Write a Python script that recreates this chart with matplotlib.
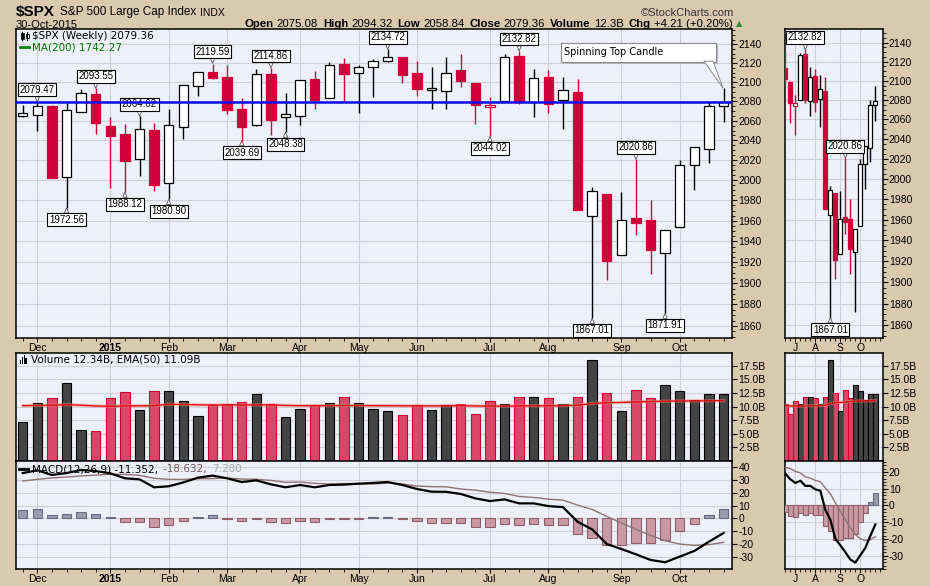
import matplotlib
matplotlib.use("Agg")
import matplotlib.pyplot as plt
from matplotlib.patches import Rectangle, Polygon
from matplotlib.ticker import FixedLocator, NullFormatter, FuncFormatter

OUTPUT = "out.png"
W, H = 930, 586

plt.rcParams["font.family"] = ["Liberation Sans", "DejaVu Sans"]

# weekly candles, week ending 28-Nov-2014 ... 30-Oct-2015
opens = [2065.0, 2065.8, 2074.8, 2002.9, 2069.5, 2087.6, 2054.4, 2046.1, 2020.8, 2050.4,
         1996.7, 2053.5, 2096.5, 2110.9, 2105.2, 2072.3, 2055.4, 2108.4, 2064.1, 2064.9,
         2102.9, 2084.0, 2119.3, 2110.0, 2115.6, 2122.0, 2126.9, 2109.8, 2092.3, 2091.3,
         2112.8, 2099.2, 2073.9, 2080.1, 2127.6, 2079.5, 2105.0, 2081.2, 2089.7, 1964.4,
         1986.4, 1926.5, 1963.0, 1961.0, 1928.5, 1953.8, 2014.9, 2031.0, 2075.08]
highs = [2075.8, 2079.47, 2075.8, 2077.9, 2092.7, 2093.55, 2064.4, 2056.9, 2064.62, 2057.6,
         2072.4, 2097.0, 2110.6, 2119.59, 2117.5, 2083.5, 2113.9, 2114.86, 2089.0, 2102.6,
         2111.9, 2120.9, 2125.9, 2118.0, 2124.4, 2134.72, 2126.9, 2122.0, 2115.4, 2126.7,
         2129.9, 2099.2, 2085.0, 2129.4, 2132.82, 2114.2, 2112.7, 2105.6, 2103.5, 1993.5,
         1986.4, 1988.6, 2020.86, 1980.1, 1951.4, 2020.3, 2033.5, 2079.7, 2094.32]
lows = [2064.3, 2049.6, 2002.3, 1972.56, 2069.0, 2046.0, 1992.4, 1988.12, 2004.5, 1989.2,
        1980.90, 2041.9, 2085.4, 2103.0, 2067.3, 2039.69, 2055.0, 2045.8, 2048.38, 2056.0,
        2072.5, 2083.0, 2079.0, 2067.9, 2085.0, 2120.9, 2099.2, 2085.7, 2072.1, 2072.5,
        2095.3, 2056.6, 2044.02, 2080.1, 2077.0, 2063.5, 2067.7, 2052.1, 1970.9, 1867.01,
        1903.1, 1926.5, 1946.3, 1908.3, 1871.91, 1953.8, 1990.0, 2016.9, 2058.84]
closes = [2067.56, 2075.37, 2002.33, 2070.65, 2088.77, 2058.20, 2044.81, 2019.42, 2051.82, 1994.99,
          2055.47, 2096.99, 2110.30, 2104.50, 2071.26, 2053.40, 2108.10, 2061.02, 2066.96, 2102.06,
          2081.18, 2117.69, 2108.29, 2116.10, 2122.73, 2126.06, 2107.39, 2092.83, 2094.11, 2109.99,
          2101.49, 2076.78, 2076.62, 2126.64, 2079.65, 2103.84, 2077.57, 2091.54, 1970.89, 1988.87,
          1921.22, 1961.05, 1958.03, 1931.34, 1951.36, 2014.89, 2033.11, 2075.15, 2079.36]
prev_close = 2063.50
last_close = 2079.36

# volume in billions and its EMA(50)
volume = [7.1, 10.6, 11.56, 14.26, 5.6, 5.44, 11.5, 12.6, 9.3, 12.85,
          12.8, 10.96, 8.2, 10.28, 10.46, 10.77, 12.24, 10.4, 8.07, 9.54,
          10.22, 10.64, 11.75, 10.64, 9.54, 9.17, 8.44, 10.22, 9.36, 10.22,
          10.4, 8.57, 10.96, 10.4, 11.69, 11.69, 11.5, 10.4, 11.69, 18.49,
          12.43, 9.12, 12.98, 11.5, 13.9, 12.8, 11.14, 12.35, 12.34]
vol_ema = [10.15, 10.2, 10.25, 10.33, 10.25, 10.1, 10.04, 10.1, 10.12, 10.15,
           10.4, 10.38, 10.3, 10.28, 10.28, 10.28, 10.3, 10.28, 10.2, 10.15,
           10.15, 10.15, 10.18, 10.18, 10.15, 10.15, 10.12, 10.12, 10.1, 10.12,
           10.15, 10.1, 10.08, 10.08, 10.1, 10.12, 10.12, 10.15, 10.25, 10.55,
           10.7, 10.75, 10.85, 10.9, 10.98, 11.02, 11.02, 11.05, 11.09]

# MACD(12,26,9)
macd = [35.3, 37.4, 33.8, 35.3, 37.7, 36.8, 35.1, 31.2, 30.4, 24.2,
        25.0, 28.0, 31.7, 33.3, 31.2, 28.3, 29.6, 26.5, 24.2, 26.0,
        24.2, 26.0, 26.3, 27.0, 27.6, 28.3, 26.0, 22.9, 20.8, 20.7,
        19.0, 15.6, 13.5, 14.8, 11.7, 11.7, 9.6, 8.8, -2.6, -8.5,
        -19.9, -23.8, -27.9, -32.3, -34.1, -29.7, -25.3, -18.1, -11.352]
signal = [29.1, 30.4, 31.5, 32.2, 33.0, 33.7, 34.3, 34.3, 33.5, 31.2,
          30.4, 30.3, 30.9, 31.0, 31.5, 30.6, 30.4, 29.6, 28.1, 28.3,
          27.3, 26.8, 27.1, 27.1, 26.8, 27.5, 26.8, 25.2, 24.7, 24.6,
          22.9, 22.0, 20.4, 19.4, 17.1, 16.3, 15.0, 14.2, 10.4, 7.0,
          1.6, -3.5, -8.4, -13.2, -17.4, -19.9, -21.0, -20.4, -18.632]
hist = [6.2, 7.0, 2.3, 3.1, 4.7, 3.1, 0.8, -3.1, -3.1, -7.0,
        -5.4, -2.3, 0.8, 2.3, -0.3, -2.3, -0.8, -3.1, -3.9, -2.3,
        -3.1, -0.8, -0.8, -0.1, 0.8, 0.8, -0.8, -2.3, -3.9, -3.9,
        -3.9, -6.4, -6.9, -4.6, -5.4, -4.6, -5.4, -5.4, -12.4, -15.5,
        -20.9, -20.9, -19.4, -19.4, -17.1, -10.1, -4.6, 2.3, 7.28]

month_pos = [1, 6, 10, 14, 19, 23, 27, 32, 36, 41, 45]
month_labels = ["Dec", "2015", "Feb", "Mar", "Apr", "May", "Jun", "Jul", "Aug", "Sep", "Oct"]
side_pos = [32, 36, 41, 45]
side_labels = ["J", "A", "S", "O"]

price_ticks = list(range(1860, 2141, 20))
vol_ticks = [2.5, 5.0, 7.5, 10.0, 12.5, 15.0, 17.5]
macd_ticks = [-30, -20, -10, 0, 10, 20, 30, 40]
side_macd_ticks = [-30, -20, -10, 0, 10, 20]

high_marks = [1, 5, 8, 13, 17, 25, 34, 42]
low_marks = [3, 7, 10, 15, 18, 32, 39, 44]
side_high_marks = [34, 42]
side_low_marks = [39]

RED = "#d2003a"
BG = "#d9c9ae"
PANEL = "#eef0f8"
GRID = "#d0d0d6"

fig = plt.figure(figsize=(W / 100, H / 100), dpi=100)
fig.patch.set_facecolor(BG)


def box(x0, y0, x1, y1):
    return [x0 / W, 1 - y1 / H, (x1 - x0) / W, (y1 - y0) / H]


ax_main = fig.add_axes(box(16, 29.3, 732.3, 338.3))
ax_vol = fig.add_axes(box(16, 353.3, 732.3, 461.3))
ax_macd = fig.add_axes(box(16, 461.3, 732.3, 569.3))
sx0, sx1 = 785.3, 882.5
sd_main = fig.add_axes(box(sx0, 29.3, sx1, 338.3))
sd_vol = fig.add_axes(box(sx0, 353.3, sx1, 461.3))
sd_macd = fig.add_axes(box(sx0, 461.3, sx1, 569.3))

n = len(closes)
xs = list(range(n))
up_color = []
for i in range(n):
    pc = closes[i - 1] if i > 0 else prev_close
    up_color.append(closes[i] >= pc)


def style(ax, xlim, ylim, xlabels):
    ax.set_facecolor(PANEL)
    ax.set_xlim(*xlim)
    ax.set_ylim(*ylim)
    for s in ax.spines.values():
        s.set_linewidth(1.1)
        s.set_color("black")
    ax.yaxis.tick_right()
    ax.tick_params(axis="y", which="major", direction="out", length=3.5, width=0.8,
                   pad=1, labelsize=7.5, colors="black")
    ax.tick_params(axis="y", which="minor", direction="out", length=2, width=0.6)
    ax.tick_params(axis="x", which="major", direction="out", length=3, width=0.7,
                   pad=0.5, labelsize=7.5)
    ax.tick_params(axis="x", which="minor", direction="out", length=2, width=0.6)
    ax.set_axisbelow(True)
    ax.grid(True, which="major", color=GRID, lw=0.8)
    if not xlabels:
        ax.tick_params(axis="x", which="both", length=0, labelbottom=False)


def set_months(ax, pos, labels, first, last):
    ax.xaxis.set_major_locator(FixedLocator(pos))
    ax.xaxis.set_minor_locator(FixedLocator(list(range(first, last + 1))))
    ax.set_xticklabels(labels)
    for t in ax.get_xticklabels():
        if t.get_text() == "2015":
            t.set_fontweight("bold")


def draw_candles(ax, idx, width):
    for i in idx:
        o, h, l, c = opens[i], highs[i], lows[i], closes[i]
        col = "black" if up_color[i] else RED
        ax.plot([i, i], [l, h], color=col, lw=1.0, zorder=3, solid_capstyle="butt")
        lo_b, hi_b = min(o, c), max(o, c)
        if hi_b - lo_b < 0.6:
            hi_b = lo_b + 0.6
        fill = col if c < o else "white"
        ax.bar(i, hi_b - lo_b, bottom=lo_b, width=width, color=fill, edgecolor=col,
               lw=0.9, zorder=4)


def mark(ax, i, above):
    v = highs[i] if above else lows[i]
    ax.annotate(f"{v:.2f}", xy=(i, v), xytext=(0, 7 if above else -7),
                textcoords="offset pixels", ha="center",
                va="bottom" if above else "top", fontsize=7,
                bbox=dict(boxstyle="square,pad=0.15", fc="white", ec="black", lw=0.8),
                arrowprops=dict(arrowstyle="wedge,tail_width=0.45", fc="white",
                                ec="#555555", lw=0.6, shrinkA=0, shrinkB=0),
                zorder=8)


def draw_volume(ax, idx, width):
    for i in idx:
        if up_color[i]:
            fc, ec = "#444444", "black"
        else:
            fc, ec = "#d9476a", "#cc0033"
        ax.bar(i, volume[i], width=width, color=fc, edgecolor=ec, lw=0.8, zorder=3)
    ax.plot(xs, vol_ema, color="#f08080", lw=2.4, alpha=0.5, zorder=4)
    ax.plot(xs, vol_ema, color="#e00000", lw=0.9, zorder=5)


def draw_macd(ax, idx, width):
    for i in idx:
        if hist[i] >= 0:
            fc, ec = "#9a9aae", "#6a6a80"
        else:
            fc, ec = "#c99aa6", "#8e5f6b"
        ax.bar(i, hist[i], width=width, color=fc, edgecolor=ec, lw=0.8, zorder=3)
    ax.plot(xs, signal, color="#8c7474", lw=1.0, zorder=4)
    ax.plot(xs, macd, color="black", lw=1.6, zorder=5)


# ---- main price panel
main_x = (-0.46, 48.6)
style(ax_main, main_x, (1848.6, 2156.0), True)
ax_main.set_yscale("log")
ax_main.set_ylim(1848.6, 2156.0)
ax_main.yaxis.set_major_locator(FixedLocator(price_ticks))
ax_main.yaxis.set_major_formatter(FuncFormatter(lambda v, p: f"{v:.0f}"))
ax_main.yaxis.set_minor_locator(FixedLocator(list(range(1850, 2156, 5))))
ax_main.yaxis.set_minor_formatter(NullFormatter())
set_months(ax_main, month_pos, month_labels, 0, 48)
draw_candles(ax_main, xs, 0.64)
ax_main.axhline(last_close, color="#0a0af0", lw=1.8, zorder=10)
for i in high_marks:
    mark(ax_main, i, True)
for i in low_marks:
    mark(ax_main, i, False)


def axfrac(x, y):
    return ((x - 16) / 716.3, (338.3 - y) / 309.0)


# spinning top callout
x0, y0 = axfrac(563, 64)
x1, y1 = axfrac(718, 45)
ax_main.add_patch(Rectangle((x0, y0), x1 - x0, y1 - y0, transform=ax_main.transAxes,
                            fc="#b8b8b8", ec="none", zorder=11))
x0, y0 = axfrac(561, 61.7)
x1, y1 = axfrac(716, 43)
ax_main.add_patch(Rectangle((x0, y0), x1 - x0, y1 - y0, transform=ax_main.transAxes,
                            fc="white", ec="#8a8a8a", lw=0.8, zorder=12))
ax_main.add_patch(Polygon([axfrac(704, 61.2), axfrac(713, 61.2), axfrac(723, 88)],
                          closed=True, transform=ax_main.transAxes, fc="white",
                          ec="#8a8a8a", lw=0.7, zorder=12))
tx, ty = axfrac(564, 52.3)
ax_main.text(tx, ty, "Spinning Top Candle", transform=ax_main.transAxes, fontsize=7,
             family=["DejaVu Sans"], va="center", ha="left", zorder=13)

# ---- volume panel
style(ax_vol, main_x, (-0.07, 19.78), False)
ax_vol.yaxis.set_major_locator(FixedLocator(vol_ticks))
ax_vol.yaxis.set_major_formatter(FuncFormatter(lambda v, p: f"{v:.1f}B"))
ax_vol.xaxis.set_major_locator(FixedLocator(month_pos))
draw_volume(ax_vol, xs, 0.64)

# ---- MACD panel
style(ax_macd, main_x, (-39.57, 44.43), True)
ax_macd.yaxis.set_major_locator(FixedLocator(macd_ticks))
ax_macd.yaxis.set_major_formatter(FuncFormatter(lambda v, p: f"{v:.0f}"))
set_months(ax_macd, month_pos, month_labels, 0, 48)
draw_macd(ax_macd, xs, 0.64)

# ---- side panels (last weeks, compressed)
side_x = (29.99, 49.43)
side_idx = list(range(29, n))
style(sd_main, side_x, (1848.0, 2154.3), True)
sd_main.set_yscale("log")
sd_main.set_ylim(1848.0, 2154.3)
sd_main.yaxis.set_major_locator(FixedLocator(price_ticks))
sd_main.yaxis.set_major_formatter(FuncFormatter(lambda v, p: f"{v:.0f}"))
sd_main.yaxis.set_minor_locator(FixedLocator(list(range(1850, 2156, 5))))
sd_main.yaxis.set_minor_formatter(NullFormatter())
set_months(sd_main, side_pos, side_labels, 30, 49)
draw_candles(sd_main, side_idx, 0.8)
for i in side_high_marks:
    mark(sd_main, i, True)
for i in side_low_marks:
    mark(sd_main, i, False)

style(sd_vol, side_x, (-0.07, 19.78), False)
sd_vol.yaxis.set_major_locator(FixedLocator(vol_ticks))
sd_vol.yaxis.set_major_formatter(FuncFormatter(lambda v, p: f"{v:.1f}B"))
sd_vol.xaxis.set_major_locator(FixedLocator(side_pos))
draw_volume(sd_vol, side_idx, 0.92)

style(sd_macd, side_x, (-38.12, 26.39), True)
sd_macd.yaxis.set_major_locator(FixedLocator(side_macd_ticks))
sd_macd.yaxis.set_major_formatter(FuncFormatter(lambda v, p: f"{v:.0f}"))
sd_macd.yaxis.set_minor_locator(FixedLocator(list(range(-38, 27, 2))))
sd_macd.yaxis.set_minor_formatter(NullFormatter())
set_months(sd_macd, side_pos, side_labels, 30, 49)
draw_macd(sd_macd, side_idx, 0.95)

# ---- legends inside panels
def ftxt(x, y, s, **kw):
    return fig.text(x / W, 1 - y / H, s, va="center", ha="left", **kw)


def fline(xa, xb, y, **kw):
    fig.add_artist(plt.Line2D([xa / W, xb / W], [1 - y / H, 1 - y / H], **kw))


def fbar(x, y0, y1, w, **kw):
    fig.add_artist(Rectangle((x / W, 1 - y1 / H), w / W, (y1 - y0) / H, **kw))


# candle icon
fig.add_artist(plt.Line2D([22 / W, 22 / W], [1 - 40 / H, 1 - 32 / H], color="black", lw=0.8))
fbar(20.5, 33.5, 38.5, 3, fc="black", ec="black", lw=0.5)
fig.add_artist(plt.Line2D([27 / W, 27 / W], [1 - 40 / H, 1 - 32 / H], color="black", lw=0.8))
fbar(25.5, 34, 38, 3, fc="white", ec="black", lw=0.6)
ftxt(31.5, 36, "$SPX (Weekly) 2079.36", fontsize=7.5, family=["DejaVu Sans"])
fline(20, 29, 47, color="#008000", lw=2)
ftxt(31.5, 47, "MA(200) 1742.27", fontsize=7.5, family=["DejaVu Sans"], color="#007a00")

# volume icon
for k, (hh) in enumerate([4, 7, 9, 6]):
    fbar(20 + k * 1.8, 364 - hh, 364, 1.3, fc="black", ec="none")
ftxt(31, 360, "Volume 12.34B, EMA(50) 11.09B", fontsize=7.5, family=["DejaVu Sans"])

fline(19, 28, 469, color="black", lw=2)
t1 = ftxt(31.5, 469, "MACD(12,26,9) -11.352, ", fontsize=7.5, family=["DejaVu Sans"])
fig.canvas.draw()
r = fig.canvas.get_renderer()
xe = t1.get_window_extent(r).x1
t2 = ftxt(xe + 2, 469, "-18.632, ", fontsize=7.5, family=["DejaVu Sans"], color="#7a5858")
xe = t2.get_window_extent(r).x1
ftxt(xe + 2, 469, "7.280", fontsize=7.5, family=["DejaVu Sans"], color="#a8a8a8")

# ---- header
def run(parts, x, y):
    for s, kw in parts:
        t = ftxt(x, y, s, **kw)
        x = t.get_window_extent(r).x1
    return x


xe = run([("$SPX", dict(fontsize=11, fontweight="bold"))], 16, 12)
xe = run([("S&P 500 Large Cap Index", dict(fontsize=8.5))], xe + 5, 12.5)
run([("INDX", dict(fontsize=7.5))], xe + 4, 12.5)
ftxt(16, 25, "30-Oct-2015", fontsize=8)
fig.text(734 / W, 1 - 12.5 / H, "\u00a9StockCharts.com", fontsize=8, ha="right",
         va="center", color="#333333")

B = dict(fontsize=8.2, fontweight="bold")
N = dict(fontsize=8.2)
hx = 244.6
for lab, val in [("Open", "2075.08"), ("High", "2094.32"), ("Low", "2058.84"),
                 ("Close", "2079.36"), ("Volume", "12.3B"), ("Chg", "+4.21 (+0.20%)")]:
    hx = run([(lab, B)], hx, 24) + 3
    hx = run([(val, N)], hx, 24) + 5
ftxt(hx - 1, 24, "\u25b2", fontsize=6, color="#2e8b2e", family=["DejaVu Sans"])

plt.savefig(OUTPUT, dpi=100, facecolor=BG)
print(f"Saved {OUTPUT}")
